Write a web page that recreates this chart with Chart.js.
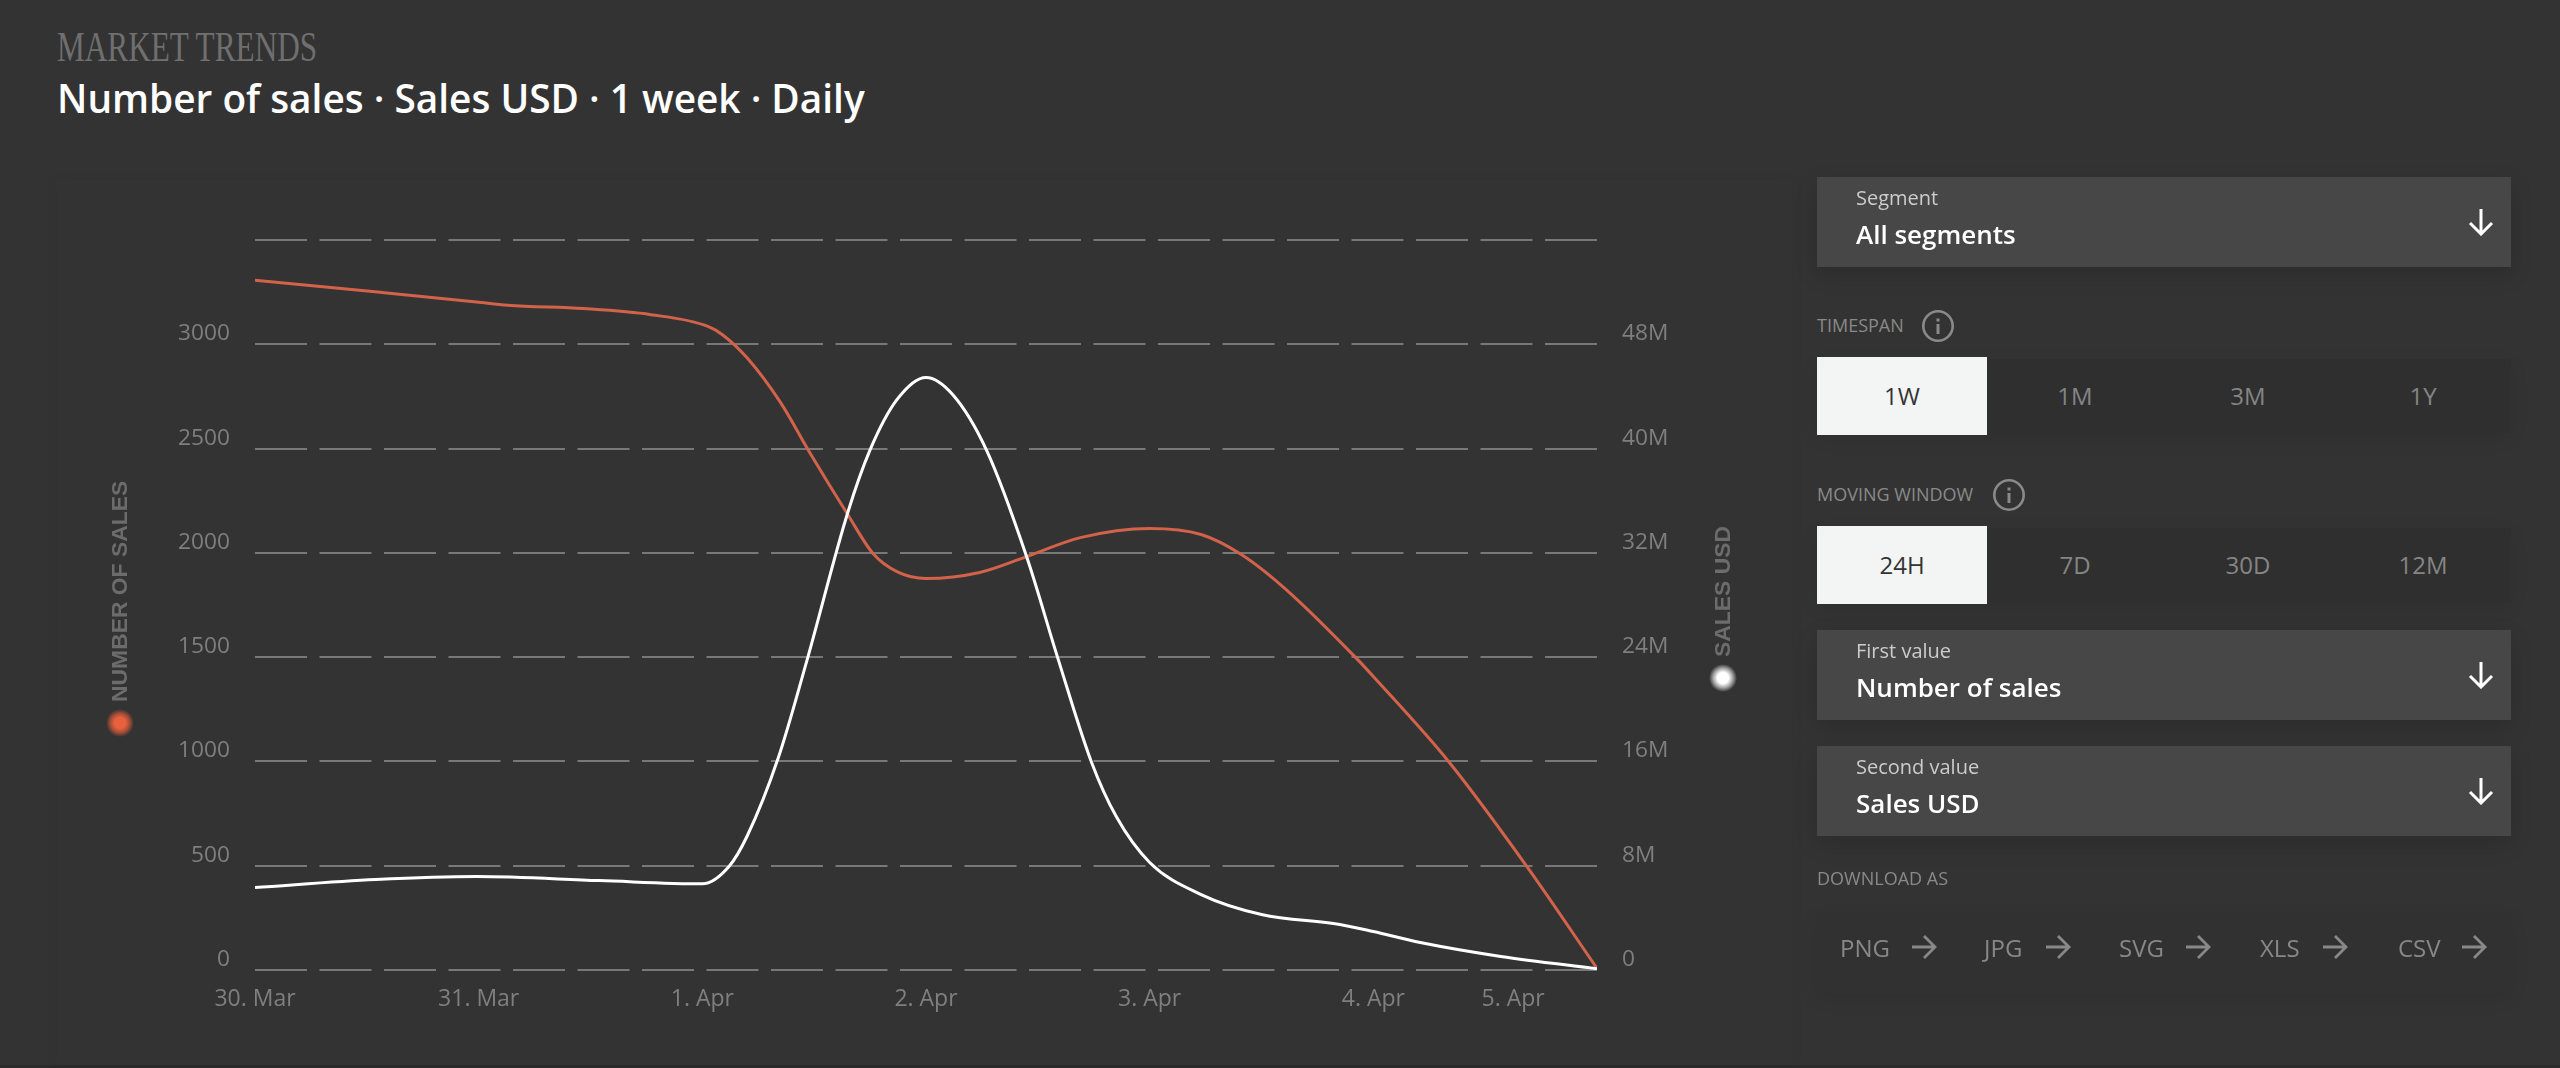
<!DOCTYPE html>
<html><head><meta charset="utf-8">
<script src="https://cdn.jsdelivr.net/npm/chart.js@4"></script>
<style>
html,body{margin:0;padding:0;width:2560px;height:1068px;overflow:hidden;background:#333;font-family:"Open Sans","Noto Sans",sans-serif}
.a{position:absolute;white-space:nowrap}
#strip{left:0;top:1065px;width:2560px;height:3px;background:#2b2b2b}
#chartPanel{left:57px;top:180px;width:1735px;height:885px;box-shadow:0 0 14px rgba(0,0,0,.05)}
#chartBox{position:absolute;left:60px;top:180px;width:1730px;height:880px}
#kicker{left:57px;top:23px;font:42px "Liberation Serif",serif;color:#6f6f6f;transform-origin:left top;transform:scaleX(.744)}
#title{left:57px;top:72px;font:600 38.8px "Open Sans",sans-serif;color:#fff}
.dd{left:1817px;width:694px;height:90px;background:#474747;box-shadow:0 8px 22px rgba(0,0,0,.14)}
.dd .s{position:absolute;left:39px;top:7px;font:20px "Open Sans",sans-serif;color:#ccc}
.dd .v{position:absolute;left:39px;top:39px;font:600 26px "Open Sans",sans-serif;color:#fff}
.dd svg{position:absolute;left:651px;top:31px}
.lab{font:18px "Open Sans",sans-serif;color:#8a8a8a;left:1817px}
.row{left:1817px;width:694px;height:74px;background:#2f2f2f;box-shadow:0 6px 18px rgba(0,0,0,.08)}
.on{left:1817px;width:170px;height:78px;background:#f3f5f4}
.b{font:24px "Open Sans",sans-serif;color:#858585;transform:translate(-50%,-50%)}
.b.act{color:#333}
.info{position:absolute}
.dl{font:24px "Open Sans",sans-serif;color:#888;transform:translateY(-50%)}
</style></head>
<body>
<div class="a" id="strip"></div>
<div class="a" id="chartPanel"></div>
<div class="a" id="kicker">MARKET TRENDS</div>
<div class="a" id="title">Number of sales · Sales USD · 1 week · Daily</div>
<div id="chartBox"><canvas id="c" width="1730" height="880"></canvas></div>
<div id="side"></div>
<script>
// Values; x is in days after 30 March.
const xTickDays = [0, 1, 2, 3, 4, 5, 5.625];
const xTickLabels = ['30. Mar', '31. Mar', '1. Apr', '2. Apr', '3. Apr', '4. Apr', '5. Apr'];
const countDays = [0, 0.56, 0.99, 1.13, 1.47, 1.77, 2.025, 2.09, 2.2, 2.35, 2.48, 2.65, 2.763, 2.87, 3, 3.24, 3.45, 3.69, 4, 4.23, 4.41, 4.61, 4.93, 5, 5.34, 5.69, 6];
const countValues = [3307, 3249, 3203, 3187, 3171, 3142, 3086, 3046, 2935, 2720, 2481, 2184, 1997, 1910, 1877, 1906, 1982, 2073, 2117, 2088, 1992, 1824, 1488, 1407, 995, 491, 8];
const usdDays = [0, 0.54, 0.99, 1.54, 2, 2.12, 2.2, 2.34, 2.47, 2.65, 2.75, 2.87, 3, 3.12, 3.27, 3.45, 3.59, 3.74, 3.85, 4, 4.23, 4.5, 4.85, 5, 5.21, 5.57, 6];
const usdMillions = [6.33, 6.94, 7.17, 6.86, 6.61, 7.96, 10.26, 16.3, 23.89, 35.08, 39.9, 43.75, 45.46, 44.13, 39.9, 31.7, 23.89, 15.94, 11.79, 8.25, 5.79, 4.26, 3.49, 2.95, 2.11, 1.04, 0.1];
const leftAxisTitle = 'NUMBER OF SALES';
const rightAxisTitle = 'SALES USD';
const timespans = ['1W', '1M', '3M', '1Y'];
const windows = ['24H', '7D', '30D', '12M'];
const downloads = ['PNG', 'JPG', 'SVG', 'XLS', 'CSV'];

const captions = {
  id: 'captions',
  afterDraw(chart) {
    const ctx = chart.ctx;
    const draw = (text, x, yEnd, dotColor, mid, glow, size) => {
      ctx.save();
      ctx.translate(x + 1, yEnd);
      ctx.rotate(-Math.PI / 2);
      ctx.font = 'bold ' + size + 'px "Liberation Sans", Arial, sans-serif';
      ctx.fillStyle = '#6c6c6c';
      ctx.textAlign = 'left';
      ctx.textBaseline = 'middle';
      ctx.fillText(text, 0, 0);
      ctx.restore();
      ctx.save();
      const r = ctx.createRadialGradient(x, yEnd + 21, 0, x, yEnd + 21, 14);
      r.addColorStop(0, dotColor); r.addColorStop(.4, dotColor); r.addColorStop(.7, mid); r.addColorStop(1, glow);
      ctx.fillStyle = r;
      ctx.beginPath(); ctx.arc(x, yEnd + 21, 14, 0, Math.PI * 2); ctx.fill();
      ctx.restore();
    };
    draw(leftAxisTitle, 60, 522, '#e8603c', 'rgba(232,96,60,.6)', 'rgba(232,96,60,0)', 22.9);
    draw(rightAxisTitle, 1663, 477, '#ffffff', 'rgba(255,255,255,.55)', 'rgba(255,255,255,0)', 22.9);
  }
};

new Chart(document.getElementById('c'), {
  type: 'line',
  data: { datasets: [
    { label: 'Number of sales', yAxisID: 'y', data: countDays.map((x, i) => ({ x, y: countValues[i] })),
      borderColor: '#d2634a', borderWidth: 3, pointRadius: 0, cubicInterpolationMode: 'monotone', order: 2 },
    { label: 'Sales USD', yAxisID: 'y2', data: usdDays.map((x, i) => ({ x, y: usdMillions[i] })),
      borderColor: '#ffffff', borderWidth: 3, pointRadius: 0, cubicInterpolationMode: 'monotone', order: 1 }
  ]},
  options: {
    responsive: false, animation: false, events: [],
    layout: { padding: { top: 60 } },
    plugins: { legend: { display: false }, tooltip: { enabled: false } },
    scales: {
      x: { type: 'linear', min: 0, max: 6, border: { display: false }, grid: { display: false },
        afterBuildTicks: s => { s.ticks = xTickDays.map(value => ({ value })); },
        afterFit: s => { s.height = 90; },
        ticks: { autoSkip: false, maxRotation: 0, padding: 8, color: '#7f7f7f', font: { family: '"Open Sans"', size: 23 },
          callback: (v, i) => xTickLabels[i] } },
      y: { position: 'left', min: 0, max: 3500,
        afterFit: s => { s.width = 195; },
        grid: { color: '#787878', lineWidth: 2, drawTicks: false, tickLength: 0 },
        border: { display: false, dash: [52, 12.5] },
        ticks: { stepSize: 500, padding: 25, labelOffset: -10.5, color: '#7f7f7f', font: { family: '"Open Sans"', size: 22.7 },
          callback: v => v === 3500 ? '' : String(v) } },
      y2: { position: 'right', min: 0, max: 56, border: { display: false },
        afterFit: s => { s.width = 193; },
        grid: { display: false, drawTicks: false },
        ticks: { stepSize: 8, padding: 25, labelOffset: -10.5, color: '#7f7f7f', font: { family: '"Open Sans"', size: 22.7 },
          callback: v => v === 56 ? '' : (v === 0 ? '0' : v + 'M') } }
    }
  },
  plugins: [captions]
});

// Side panel widgets
const side = document.getElementById('side');
const add = (html) => side.insertAdjacentHTML('beforeend', html);
const downArrow = '<svg width="26" height="28" viewBox="0 0 26 28" fill="none" stroke="#fff" stroke-width="3"><path d="M13 1V26M2 15L13 26L24 15"/></svg>';
const dropdown = (top, s, v) => add(`<div class="a dd" style="top:${top}px"><div class="s">${s}</div><div class="v">${v}</div>${downArrow}</div>`);
const infoIcon = (cx, cy) => add(`<svg class="info" style="left:${cx-17}px;top:${cy-17}px" width="34" height="34" viewBox="0 0 34 34" fill="none" stroke="#8a8a8a" stroke-width="2.6"><circle cx="17" cy="17" r="14.7"/><path d="M17 15V25" stroke-width="3"/><path d="M17 9.5V12.5" stroke-width="3"/></svg>`);
const btnX = [1902, 2075, 2248, 2423];
const btnRow = (top, items) => {
  add(`<div class="a row" style="top:${top+2}px"></div><div class="a on" style="top:${top}px"></div>`);
  items.forEach((t, i) => add(`<div class="a b ${i===0?'act':''}" style="left:${btnX[i]}px;top:${top+38}px">${t}</div>`));
};
dropdown(177, 'Segment', 'All segments');
add('<div class="a lab" style="top:313px">TIMESPAN</div>'); infoIcon(1938, 326);
btnRow(357, timespans);
add('<div class="a lab" style="top:482px">MOVING WINDOW</div>'); infoIcon(2009, 495);
btnRow(526, windows);
dropdown(630, 'First value', 'Number of sales');
dropdown(746, 'Second value', 'Sales USD');
add('<div class="a lab" style="top:866px">DOWNLOAD AS</div>');
add('<div class="a row" style="top:913px;height:80px;background:#313131"></div>');
const dlX = [1840, 1984, 2119, 2260, 2398], arX = [1912, 2046, 2186, 2323, 2462];
downloads.forEach((t, i) => {
  add(`<div class="a dl" style="left:${dlX[i]}px;top:947px">${t}</div>`);
  add(`<svg class="a" style="left:${arX[i]}px;top:934px" width="25" height="26" viewBox="0 0 25 26" fill="none" stroke="#888" stroke-width="2.8"><path d="M0 13H23M12 2L23 13L12 24"/></svg>`);
});
</script>
</body></html>
